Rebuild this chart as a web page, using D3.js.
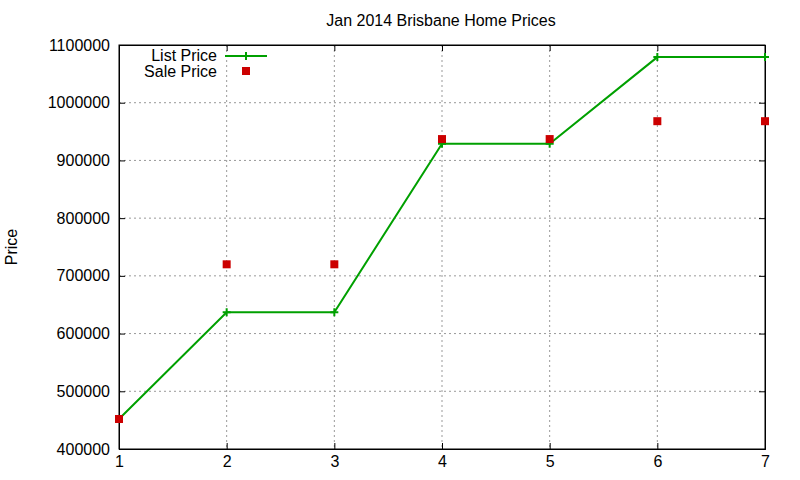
<!DOCTYPE html><html><head><script src="https://d3js.org/d3.v7.min.js"></script>
<style>body{margin:0;background:#fff}text{font-family:"Liberation Sans",Arial,sans-serif}</style></head><body><svg width="800" height="480"></svg>
<script>
const xs=[1,2,3,4,5,6,7];
const listPrice=[452000,637000,637000,929000,929000,1079000,1079000];
const salePrice=[452000,720000,720000,937000,937000,968000,968000];
const yTicks=[400000,500000,600000,700000,800000,900000,1000000,1100000];
const svg=d3.select("svg");
const L=119,R=765,T=45,B=449;
const x=d3.scaleLinear().domain([1,7]).range([L,R]);
const y=d3.scaleLinear().domain([400000,1100000]).range([B,T]);
const g=svg.append("g");
xs.slice(1,-1).forEach(v=>g.append("line").attr("x1",x(v)).attr("x2",x(v)).attr("y1",T).attr("y2",B).attr("stroke","#999").attr("stroke-dasharray","2,3"));
yTicks.slice(1,-1).forEach(v=>g.append("line").attr("x1",L).attr("x2",R).attr("y1",y(v)).attr("y2",y(v)).attr("stroke","#999").attr("stroke-dasharray","2,3"));
svg.append("g").attr("transform",`translate(0,${B})`).call(d3.axisBottom(x).tickValues(xs).tickFormat(d3.format("d")).tickSize(-6).tickPadding(7));
svg.append("g").attr("transform",`translate(${L},0)`).call(d3.axisLeft(y).tickValues(yTicks).tickFormat(d3.format("d")).tickSize(-6).tickPadding(9));
svg.append("g").attr("transform",`translate(0,${T})`).call(d3.axisTop(x).tickValues(xs).tickFormat("").tickSize(-6));
svg.append("g").attr("transform",`translate(${R},0)`).call(d3.axisRight(y).tickValues(yTicks).tickFormat("").tickSize(-6));
svg.selectAll(".domain").attr("stroke","#000");
svg.selectAll(".tick text").attr("font-size",16).attr("fill","#000");
svg.selectAll(".tick line").attr("stroke","#000");
svg.append("rect").attr("x",L).attr("y",T).attr("width",R-L).attr("height",B-T).attr("fill","none").attr("stroke","#000");
svg.append("path").datum(xs.map((v,i)=>[v,listPrice[i]])).attr("fill","none").attr("stroke","#00a000").attr("stroke-width",2)
 .attr("d",d3.line().x(d=>x(d[0])).y(d=>y(d[1])));
const cross=(cx,cy)=>{svg.append("path").attr("d",`M${cx-4},${cy}H${cx+4}M${cx},${cy-4}V${cy+4}`).attr("stroke","#00a000").attr("stroke-width",2);};
xs.forEach((v,i)=>cross(x(v),y(listPrice[i])));
xs.forEach((v,i)=>svg.append("rect").attr("x",x(v)-4).attr("y",y(salePrice[i])-4).attr("width",8).attr("height",8).attr("fill","#cc0000"));
svg.append("text").attr("x",217).attr("y",61).attr("text-anchor","end").attr("font-size",16).text("List Price");
svg.append("line").attr("x1",225).attr("x2",267).attr("y1",56).attr("y2",56).attr("stroke","#00a000").attr("stroke-width",2);
cross(246,56);
svg.append("text").attr("x",217).attr("y",77).attr("text-anchor","end").attr("font-size",16).text("Sale Price");
svg.append("rect").attr("x",242).attr("y",67).attr("width",8).attr("height",8).attr("fill","#cc0000");
svg.append("text").attr("x",441).attr("y",26).attr("text-anchor","middle").attr("font-size",16).text("Jan 2014 Brisbane Home Prices");
svg.append("text").attr("transform","translate(17,247) rotate(-90)").attr("text-anchor","middle").attr("font-size",16).text("Price");
</script></body></html>
